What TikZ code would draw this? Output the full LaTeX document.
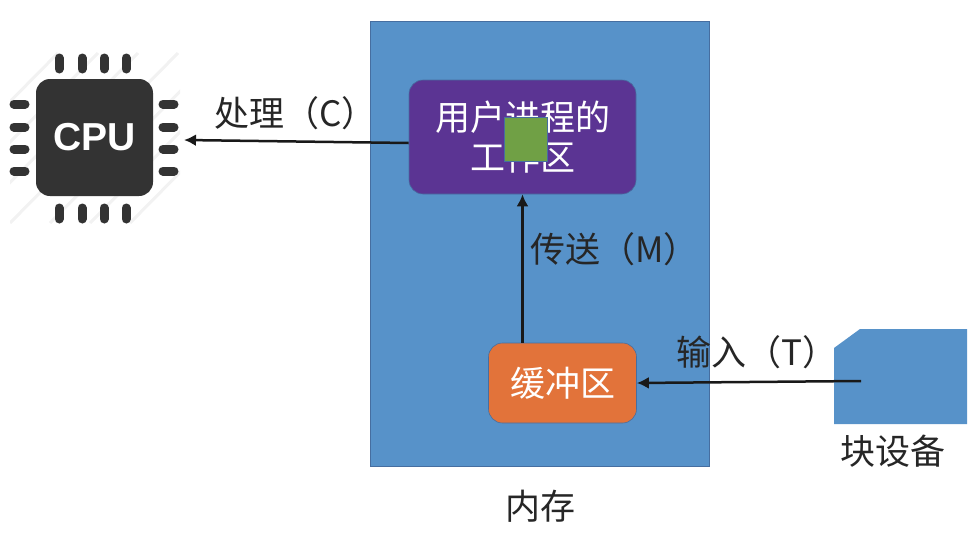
\documentclass[tikz,border=0pt]{standalone}
\usepackage{fontspec}
\setmainfont{Noto Sans CJK SC}
\newfontfamily\cpufont{Liberation Sans}
\usetikzlibrary{arrows.meta}
\definecolor{myblue}{RGB}{87, 146, 201}
\definecolor{myedge}{RGB}{70, 110, 160}
\definecolor{mypurple}{RGB}{91, 52, 147}
\definecolor{myorange}{RGB}{226, 115, 58}
\definecolor{mygreen}{RGB}{112, 160, 69}
\definecolor{mychip}{RGB}{51, 51, 51}
\tikzset{
  block/.style={inner sep=0pt,rounded corners=14pt,draw=myedge,line width=0.6pt,text=white,align=center,font=\fontsize{35}{40}\selectfont},
  lbl/.style={inner sep=0pt,text=black!85,font=\fontsize{35}{40}\selectfont},
  flow/.style={-{Latex[length=12pt,width=12pt]},line width=2.5pt,black!90},
  pin/.style={line width=9pt,line cap=round,mychip},
}
\begin{document}
\begin{tikzpicture}[x=1pt,y=-1pt]
\useasboundingbox (0,0) rectangle (972,533);

%%%%%%%%%% memory
\node[inner sep=0pt,fill=myblue,draw=myedge,line width=0.6pt,minimum width=339pt,minimum height=445pt] (mem) at (539.5,243.5) {};
\node[lbl] (memlabel) at (540,506) {内存};

\node[block,fill=mypurple,minimum width=227pt,minimum height=114pt] (work) at (522.5,137) {用户进程的\\工作区};
\node[inner sep=0pt,fill=mygreen,draw=myedge,line width=0.5pt,minimum width=43pt,minimum height=44pt] (patch) at (525.5,139) {};
\node[block,fill=myorange,minimum width=148pt,minimum height=80pt] (buffer) at (562.5,383) {缓冲区};

%%%%%%%%%% block device
\fill[myblue] (834,348) -- (860,329) -- (967,329) -- (967,424) -- (834,424) -- cycle;
\coordinate (devout) at (861,381);
\node[lbl] (devlabel) at (893,451) {块设备};

%%%%%%%%%% cpu
\begin{scope}
\clip (10,50) rectangle (180,226);
\foreach \s in {-120,-80,...,120}
  \draw[black!5,line width=3pt] (10+\s,223) -- (178+\s,53);
\end{scope}

\node[inner sep=0pt,fill=mychip,rounded corners=14pt,text=white,minimum width=117pt,minimum height=117pt,font=\cpufont\bfseries\fontsize{39}{44}\selectfont] (cpu) at (94.5,137.5) {CPU};
\foreach \x in {59,82,104,126}{
  \draw[pin] (\x,58) -- (\x,69);
  \draw[pin] (\x,208) -- (\x,219);
}
\foreach \y in {104,127,149,171}{
  \draw[pin] (14,\y) -- (25,\y);
  \draw[pin] (163,\y) -- (174,\y);
}
\coordinate (cpuin) at (184,140);

%%%%%%%%%% flows
\draw[flow] ([yshift=-6pt]work.west) -- (cpuin);
\draw[flow] (buffer.north -| work.south) -- (work.south);
\draw[flow] (devout) -- (buffer.east);

\node[lbl,anchor=west] (proc) at (214,113) {处理（C）};
\node[lbl,anchor=west] (move) at (530,249) {传送（M）};
\node[lbl,anchor=west] (input) at (676,352) {输入（T）};
\end{tikzpicture}
\end{document}
